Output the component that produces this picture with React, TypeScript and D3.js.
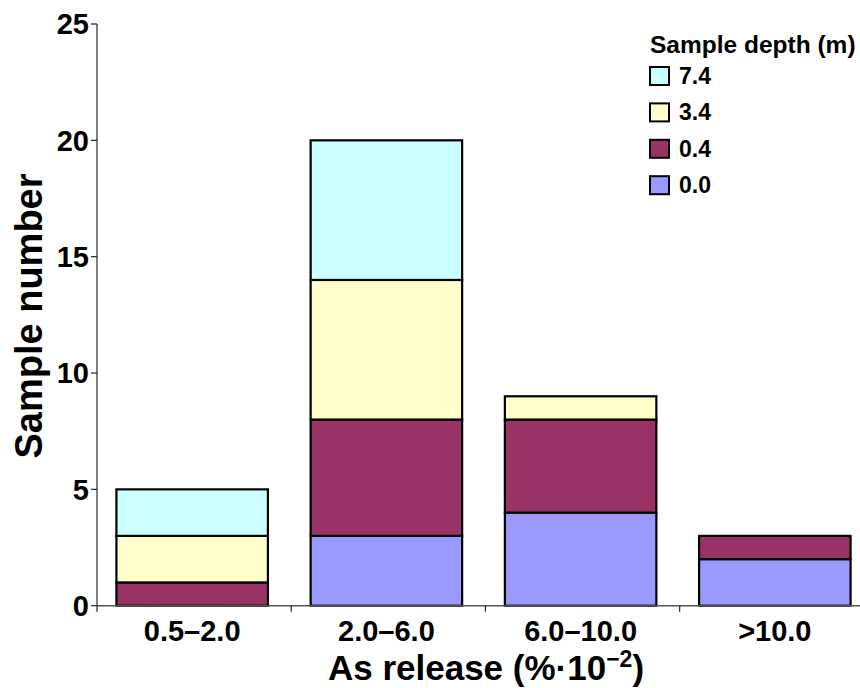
import React, { useRef, useEffect } from "react";
import * as d3 from "d3";

const categories = ["0.5–2.0", "2.0–6.0", "6.0–10.0", ">10.0"];
const depths = ["0.0", "0.4", "3.4", "7.4"];
const depth00 = [0, 3, 4, 2];
const depth04 = [1, 5, 4, 1];
const depth34 = [2, 6, 1, 0];
const depth74 = [2, 6, 0, 0];
const yTicks = [0, 5, 10, 15, 20, 25];
const colors = ["#9999ff", "#993366", "#ffffcc", "#ccffff"];

const W = 860;
const H = 688;
const FONT = "'Liberation Sans', Arial, sans-serif";

const App = () => {
    const svgRef = useRef<SVGSVGElement>(null);

    useEffect(() => {
        const svg = d3.select(svgRef.current);
        svg.selectAll("*").remove();

        const rows = categories.map((c, i) => ({
            cat: c,
            "0.0": depth00[i],
            "0.4": depth04[i],
            "3.4": depth34[i],
            "7.4": depth74[i],
        }));
        const series = d3.stack<any>().keys(depths)(rows);

        const x = d3
            .scaleBand()
            .domain(categories)
            .range([97, 870])
            .paddingInner(0.22)
            .paddingOuter(0.1);
        const y = d3.scaleLinear().domain([0, 25]).range([605.7, 24]);

        // bars
        const g = svg.append("g");
        series.forEach((s, si) => {
            g.selectAll(null)
                .data(s.filter((d) => d[1] - d[0] > 0))
                .enter()
                .append("rect")
                .attr("x", (d: any) => x(d.data.cat)!)
                .attr("width", x.bandwidth())
                .attr("y", (d) => y(d[1]))
                .attr("height", (d) => y(d[0]) - y(d[1]))
                .attr("fill", colors[si])
                .attr("stroke", "#000")
                .attr("stroke-width", 2.2);
        });

        // y axis
        svg.append("line")
            .attr("x1", 97).attr("x2", 97)
            .attr("y1", y(25)).attr("y2", y(0))
            .attr("stroke", "#555").attr("stroke-width", 1.5);
        const yt = svg.append("g");
        yTicks.forEach((t) => {
            yt.append("line")
                .attr("x1", 91).attr("x2", 97)
                .attr("y1", y(t)).attr("y2", y(t))
                .attr("stroke", "#222").attr("stroke-width", 1.2);
            yt.append("text")
                .attr("x", 89)
                .attr("y", y(t))
                .attr("dy", "0.36em")
                .attr("text-anchor", "end")
                .style("font-family", FONT)
                .style("font-weight", "bold")
                .style("font-size", "29px")
                .text(t);
        });

        // x axis
        svg.append("line")
            .attr("x1", 97).attr("x2", W)
            .attr("y1", y(0)).attr("y2", y(0))
            .attr("stroke", "#555").attr("stroke-width", 1.5);
        const step = x.step();
        d3.range(categories.length + 1).forEach((i) => {
            const tx = 97 + i * step;
            svg.append("line")
                .attr("x1", tx).attr("x2", tx)
                .attr("y1", y(0)).attr("y2", y(0) + 6)
                .attr("stroke", "#222").attr("stroke-width", 1.2);
        });
        categories.forEach((c) => {
            svg.append("text")
                .attr("x", x(c)! + x.bandwidth() / 2)
                .attr("y", 641)
                .attr("text-anchor", "middle")
                .style("font-family", FONT)
                .style("font-weight", "bold")
                .style("font-size", "29px")
                .text(c);
        });

        // axis titles
        const xt = svg.append("text")
            .attr("x", 486)
            .attr("y", 680)
            .attr("text-anchor", "middle")
            .style("font-family", FONT)
            .style("font-weight", "bold")
            .style("font-size", "35px");
        xt.append("tspan").text("As release (%·10");
        xt.append("tspan").attr("dy", -13).style("font-size", "23px").text("−2");
        xt.append("tspan").attr("dy", 13).text(")");

        svg.append("text")
            .attr("transform", `translate(42,316) rotate(-90)`)
            .attr("text-anchor", "middle")
            .style("font-family", FONT)
            .style("font-weight", "bold")
            .style("font-size", "38px")
            .text("Sample number");

        // legend
        const lg = svg.append("g");
        lg.append("text")
            .attr("x", 650)
            .attr("y", 53)
            .style("font-family", FONT)
            .style("font-weight", "bold")
            .style("font-size", "24.5px")
            .text("Sample depth (m)");
        const legendOrder = [3, 2, 1, 0];
        legendOrder.forEach((si, i) => {
            const top = 67 + i * 36.4;
            lg.append("rect")
                .attr("x", 650).attr("y", top)
                .attr("width", 19).attr("height", 18)
                .attr("fill", colors[si])
                .attr("stroke", "#000").attr("stroke-width", 2);
            lg.append("text")
                .attr("x", 679)
                .attr("y", top + 17)
                .style("font-family", FONT)
                .style("font-weight", "bold")
                .style("font-size", "23px")
                .text(depths[si]);
        });
    });

    return (
        <svg
            ref={svgRef}
            width={W}
            height={H}
            style={{ position: "fixed", left: 0, top: 0, background: "#fff" }}
        />
    );
};

export default App;
